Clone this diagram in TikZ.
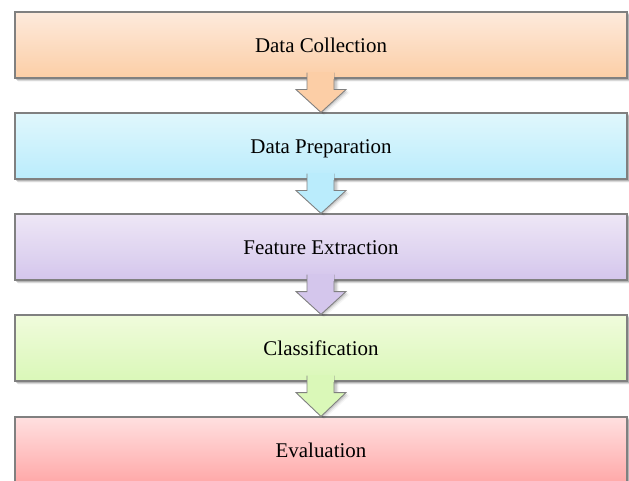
\documentclass[tikz,border=0pt]{standalone}
\usepackage{fontspec}
\setmainfont{Liberation Serif}
\usetikzlibrary{calc}
\definecolor{boxline}{RGB}{128,128,128}
\definecolor{oTop}{RGB}{253,234,220}
\definecolor{oBot}{RGB}{252,206,166}
\definecolor{cTop}{RGB}{224,247,252}
\definecolor{cBot}{RGB}{186,236,252}
\definecolor{pTop}{RGB}{238,231,246}
\definecolor{pBot}{RGB}{212,198,236}
\definecolor{gTop}{RGB}{240,251,220}
\definecolor{gBot}{RGB}{218,248,184}
\definecolor{rTop}{RGB}{255,224,224}
\definecolor{rBot}{RGB}{255,168,168}
\tikzset{
  stepbox/.style={rectangle, draw=boxline, line width=1.1bp,
    minimum width=612bp, minimum height=66bp, inner sep=0pt,
    text height=17bp, text depth=2bp,
    font=\fontsize{21}{25}\selectfont},
  flowarrow/.style={draw=boxline, line width=0.9bp, line join=miter}
}
\newcommand\boxshadow[1]{%
  \foreach \d/\o in {1/0.10,2/0.08,3/0.07,4/0.05,5/0.03}{
    \fill[black, opacity=\o] ($(#1.north west)+(\d*0.5+1,\d*0.6+1)$) rectangle ($(#1.south east)+(\d*0.5+0.5,\d*0.6+0.5)$);
  }}
\newcommand\flowarr[3]{%
  \foreach \d/\o in {1/0.10,2/0.07,3/0.04}{
    \fill[black, opacity=\o] ($(#1.south)+(-12.5+\d,0)$) -- ($(#1.south)+(-12.5+\d,11+\d)$) -- ($(#1.south)+(-24+\d,11+\d)$)
      -- ($(#2.north)+(\d,\d)$) -- ($(#1.south)+(26+\d,11+\d)$) -- ($(#1.south)+(14.5+\d,11+\d)$) -- ($(#1.south)+(14.5+\d,0)$) -- cycle;
  }
  \path[flowarrow, fill=#3] ($(#1.south)+(-14,-6)$) -- ($(#1.south)+(-14,11)$) -- ($(#1.south)+(-25,11)$)
    -- (#2.north) -- ($(#1.south)+(25,11)$) -- ($(#1.south)+(13,11)$) -- ($(#1.south)+(13,-6)$);
  \fill[#3] ($(#1.south)+(-13.5,-7)$) rectangle ($(#1.south)+(12.5,0.5)$);
}
\begin{document}
\begin{tikzpicture}[x=1bp,y=-1bp]
\useasboundingbox (0,0) rectangle (629,481);
\clip (0,0) rectangle (629,481);
\fill[white] (0,0) rectangle (629,481);
\coordinate (c1) at (321,45);
\coordinate (c2) at (321,146);
\coordinate (c3) at (321,247);
\coordinate (c4) at (321,348);
\coordinate (c5) at (321,450);
\path (c1) node[stepbox] (b1) {};
\path (c2) node[stepbox] (b2) {};
\path (c3) node[stepbox] (b3) {};
\path (c4) node[stepbox] (b4) {};
\path (c5) node[stepbox] (b5) {};
\boxshadow{b1}\boxshadow{b2}\boxshadow{b3}\boxshadow{b4}\boxshadow{b5}
\node[stepbox, top color=oTop, bottom color=oBot] (n1) at (c1) {Data Collection};
\node[stepbox, top color=cTop, bottom color=cBot] (n2) at (c2) {Data Preparation};
\node[stepbox, top color=pTop, bottom color=pBot] (n3) at (c3) {Feature Extraction};
\node[stepbox, top color=gTop, bottom color=gBot] (n4) at (c4) {Classification};
\node[stepbox, top color=rTop, bottom color=rBot] (n5) at (c5) {Evaluation};
\flowarr{n1}{n2}{oBot}
\flowarr{n2}{n3}{cBot}
\flowarr{n3}{n4}{pBot}
\flowarr{n4}{n5}{gBot}
\end{tikzpicture}
\end{document}
